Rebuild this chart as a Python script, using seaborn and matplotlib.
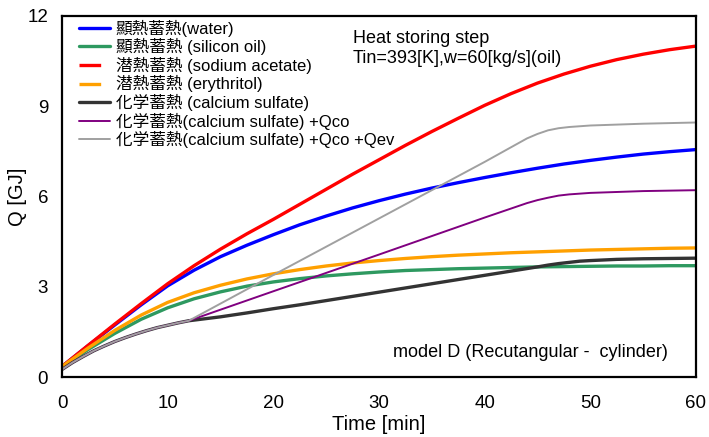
import matplotlib
matplotlib.use("Agg")
import matplotlib.pyplot as plt
from matplotlib.lines import Line2D
import seaborn as sns

# ---- data ----
t_main = [0, 2.5, 5, 7.5, 10, 12.5, 15, 17.5, 20, 22.5, 25, 27.5, 30, 32.5, 35, 37.5,
          40, 42.5, 45, 47.5, 50, 52.5, 55, 57.5, 60]
q_water = [0.35, 1.05, 1.73, 2.40, 3.03, 3.55, 4.00, 4.38, 4.73, 5.06, 5.35, 5.62, 5.86,
           6.08, 6.28, 6.46, 6.63, 6.79, 6.94, 7.08, 7.20, 7.31, 7.41, 7.49, 7.56]
q_silicon = [0.33, 0.92, 1.45, 1.92, 2.30, 2.60, 2.83, 3.02, 3.16, 3.27, 3.36, 3.43, 3.49,
             3.54, 3.57, 3.60, 3.62, 3.64, 3.66, 3.67, 3.68, 3.69, 3.69, 3.70, 3.70]
q_sodium = [0.35, 1.06, 1.76, 2.44, 3.10, 3.70, 4.25, 4.76, 5.24, 5.74, 6.24, 6.74, 7.22,
            7.70, 8.16, 8.60, 9.03, 9.42, 9.77, 10.07, 10.33, 10.55, 10.73, 10.88, 11.00]
q_eryth = [0.35, 0.97, 1.55, 2.06, 2.48, 2.80, 3.05, 3.26, 3.43, 3.57, 3.69, 3.79, 3.87,
           3.94, 4.00, 4.05, 4.09, 4.13, 4.16, 4.19, 4.22, 4.24, 4.26, 4.28, 4.29]

t_common = [0, 1, 2, 3, 4, 5, 6, 7, 8, 9, 10, 11, 12]
q_common = [0.25, 0.48, 0.68, 0.87, 1.03, 1.18, 1.31, 1.43, 1.54, 1.64, 1.72, 1.80, 1.87]

t_calc = [15, 17.5, 20, 22.5, 25, 27.5, 30, 32.5, 35, 37.5, 40, 42.5, 45, 46, 47, 48, 49,
          50, 52.5, 55, 57.5, 60]
q_calc = [2.00, 2.13, 2.27, 2.40, 2.54, 2.68, 2.82, 2.96, 3.10, 3.24, 3.38, 3.52, 3.66,
          3.72, 3.77, 3.81, 3.85, 3.87, 3.91, 3.93, 3.94, 3.95]

t_qco = [20, 30, 40, 44, 45, 46, 47, 48, 50, 55, 60]
q_qco = [2.85, 4.07, 5.30, 5.78, 5.88, 5.96, 6.03, 6.07, 6.12, 6.18, 6.21]

t_qev = [20, 30, 40, 44, 45, 46, 47, 48, 50, 55, 60]
q_qev = [3.39, 5.27, 7.15, 7.93, 8.08, 8.20, 8.27, 8.31, 8.36, 8.42, 8.46]

labels = ["顯熱蓄熱(water)", "顯熱蓄熱 (silicon oil)", "潜熱蓄熱 (sodium acetate)",
          "潜熱蓄熱 (erythritol)", "化学蓄熱 (calcium sulfate)",
          "化学蓄熱(calcium sulfate) +Qco", "化学蓄熱(calcium sulfate) +Qco +Qev"]
x_ticks = [0, 10, 20, 30, 40, 50, 60]
y_ticks = [0, 3, 6, 9, 12]

# ---- style ----
sns.set_theme(style="white")
plt.rcParams["font.family"] = ["Liberation Sans", "Noto Sans CJK JP"]
plt.rcParams["xtick.direction"] = "in"
plt.rcParams["ytick.direction"] = "in"

colors = ["#0000FF", "#2E9960", "#FF0000", "#FFA000", "#333333", "#800080", "#A0A0A0"]
widths = [2.4, 2.4, 2.4, 2.4, 2.4, 1.4, 1.4]

fig = plt.figure(figsize=(7.09, 4.37), dpi=100)
ax = fig.add_axes([62 / 709, 1 - 377 / 437, (696 - 62) / 709, (377 - 16) / 437])

series = [
    (t_main, q_water),
    (t_main, q_silicon),
    (t_main, q_sodium),
    (t_main, q_eryth),
    (t_common + t_calc, q_common + q_calc),
    (t_common + t_qco, q_common + q_qco),
    (t_common + t_qev, q_common + q_qev),
]
for (tx, qy), c, w in zip(series, colors, widths):
    sns.lineplot(x=tx, y=qy, color=c, linewidth=w, ax=ax, legend=False)

ax.set_xlim(0, 60)
ax.set_ylim(0, 12)
ax.set_xticks(x_ticks)
ax.set_yticks(y_ticks)
ax.tick_params(axis="both", which="major", length=6, width=1.2, color="black",
               labelsize=13.5, labelcolor="black")
ax.tick_params(axis="x", pad=13)
ax.tick_params(axis="y", pad=10)
for s in ax.spines.values():
    s.set_color("black")
    s.set_linewidth(1.6)

ax.set_xlabel("Time [min]", fontsize=14.5, labelpad=2, color="black")
ax.set_ylabel("Q [GJ]", fontsize=14.5, labelpad=0, color="black")

# legend
handles = []
for i, (c, w) in enumerate(zip(colors, widths)):
    if i in (2, 3):
        handles.append(Line2D([], [], color=c, linewidth=w, linestyle=(0, (6.5, 20))))
    else:
        handles.append(Line2D([], [], color=c, linewidth=w))
leg = ax.legend(handles, labels, loc="upper left", bbox_to_anchor=(0.027, 0.99),
                frameon=False, fontsize=12, handlelength=1.85, handletextpad=0.35,
                labelspacing=0.09, borderaxespad=0, borderpad=0)
for txt in leg.get_texts():
    txt.set_color("black")

ax.text(0.4585, 0.925, "Heat storing step", transform=ax.transAxes,
        fontsize=13, va="baseline", ha="left", color="black")
ax.text(0.4585, 0.87, "Tin=393[K],w=60[kg/s](oil)", transform=ax.transAxes,
        fontsize=13, va="baseline", ha="left", color="black")
ax.text(0.956, 0.0546, "model D (Recutangular -  cylinder)", transform=ax.transAxes,
        fontsize=13, va="baseline", ha="right", color="black")

fig.savefig("out.png", dpi=100)
